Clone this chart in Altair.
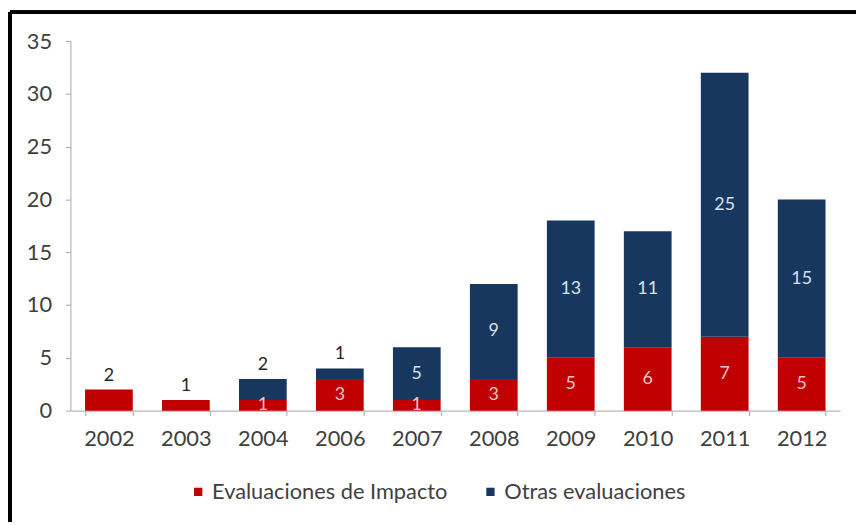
import altair as alt
import pandas as pd

years = ["2002", "2003", "2004", "2006", "2007", "2008", "2009", "2010", "2011", "2012"]
impacto = [2, 1, 1, 3, 1, 3, 5, 6, 7, 5]
otras = [0, 0, 2, 1, 5, 9, 13, 11, 25, 15]
series_names = ["Evaluaciones de Impacto", "Otras evaluaciones"]
series_colors = ["#c00000", "#17375e"]

rows = []
for y, a, b in zip(years, impacto, otras):
    rows.append({"year": y, "serie": series_names[0], "value": a, "ord": 0})
    rows.append({"year": y, "serie": series_names[1], "value": b, "ord": 1})
long_df = pd.DataFrame(rows)

lab = pd.DataFrame({"year": years, "imp": impacto, "otr": otras})
lab["total"] = lab["imp"] + lab["otr"]
lab["imp_mid"] = lab["imp"] / 2
lab["otr_mid"] = lab["imp"] + lab["otr"] / 2
red_in = lab[lab["otr"] > 0]
blue_in = lab[lab["otr"] >= 3]
top = lab[lab["otr"] < 3].copy()
top["top_label"] = [o if o > 0 else i for i, o in zip(top["imp"], top["otr"])]

FONT = "Lato"
W, H = 777, 373

xenc = alt.X("year:N", sort=years, title=None,
             scale=alt.Scale(paddingInner=0.38, paddingOuter=0.19))

bars = alt.Chart(long_df).mark_bar().encode(
    x=xenc,
    y=alt.Y("value:Q", stack="zero", title=None,
            scale=alt.Scale(domain=[0, 35], nice=False),
            axis=alt.Axis(values=[0, 5, 10, 15, 20, 25, 30, 35])),
    color=alt.Color("serie:N", sort=series_names,
                    scale=alt.Scale(domain=series_names, range=series_colors),
                    legend=alt.Legend(title=None, orient="none", direction="horizontal",
                                      legendX=118, legendY=444, symbolType="square",
                                      symbolSize=70, symbolStrokeWidth=0,
                                      labelFontSize=22, labelFont=FONT, labelColor="#404040",
                                      labelLimit=0, columnPadding=32, labelOffset=3)),
    order=alt.Order("ord:Q"),
)

red_txt = alt.Chart(red_in).mark_text(font=FONT, fontSize=18, color="#f6c4c4", baseline="middle").encode(
    x=alt.X("year:N", sort=years), y=alt.Y("imp_mid:Q"), text=alt.Text("imp:Q"))
blue_txt = alt.Chart(blue_in).mark_text(font=FONT, fontSize=18, color="#d6e2f0", baseline="middle").encode(
    x=alt.X("year:N", sort=years), y=alt.Y("otr_mid:Q"), text=alt.Text("otr:Q"))
top_txt = alt.Chart(top).mark_text(font=FONT, fontSize=18, color="#262626", baseline="middle", dy=-14).encode(
    x=alt.X("year:N", sort=years), y=alt.Y("total:Q"), text=alt.Text("top_label:Q"))

border_top = alt.Chart(lab).mark_rule(color="black", strokeWidth=3.5, clip=False).encode(
    x=alt.value(-61), x2=alt.value(W + 40), y=alt.value(-29))
border_left = alt.Chart(lab).mark_rule(color="black", strokeWidth=3.5, clip=False).encode(
    x=alt.value(-61), y=alt.value(-29), y2=alt.value(H + 140))

chart = alt.layer(bars, red_txt, blue_txt, top_txt, border_top, border_left).properties(
    width=W, height=H,
    autosize=alt.AutoSizeParams(type="none"),
    padding={"left": 63, "top": 31, "right": 16, "bottom": 110},
).configure_view(stroke=None).configure_axis(
    labelFont=FONT, labelFontSize=22, labelColor="#404040",
    domainColor="#a6a6a6", tickColor="#a6a6a6", grid=False, tickSize=5,
).configure_axisX(
    tickBand="extent", labelPadding=13, labelAngle=0,
).configure_axisY(
    labelPadding=14,
)

chart.save("out.html", embed_options={"renderer": "svg", "actions": False})
